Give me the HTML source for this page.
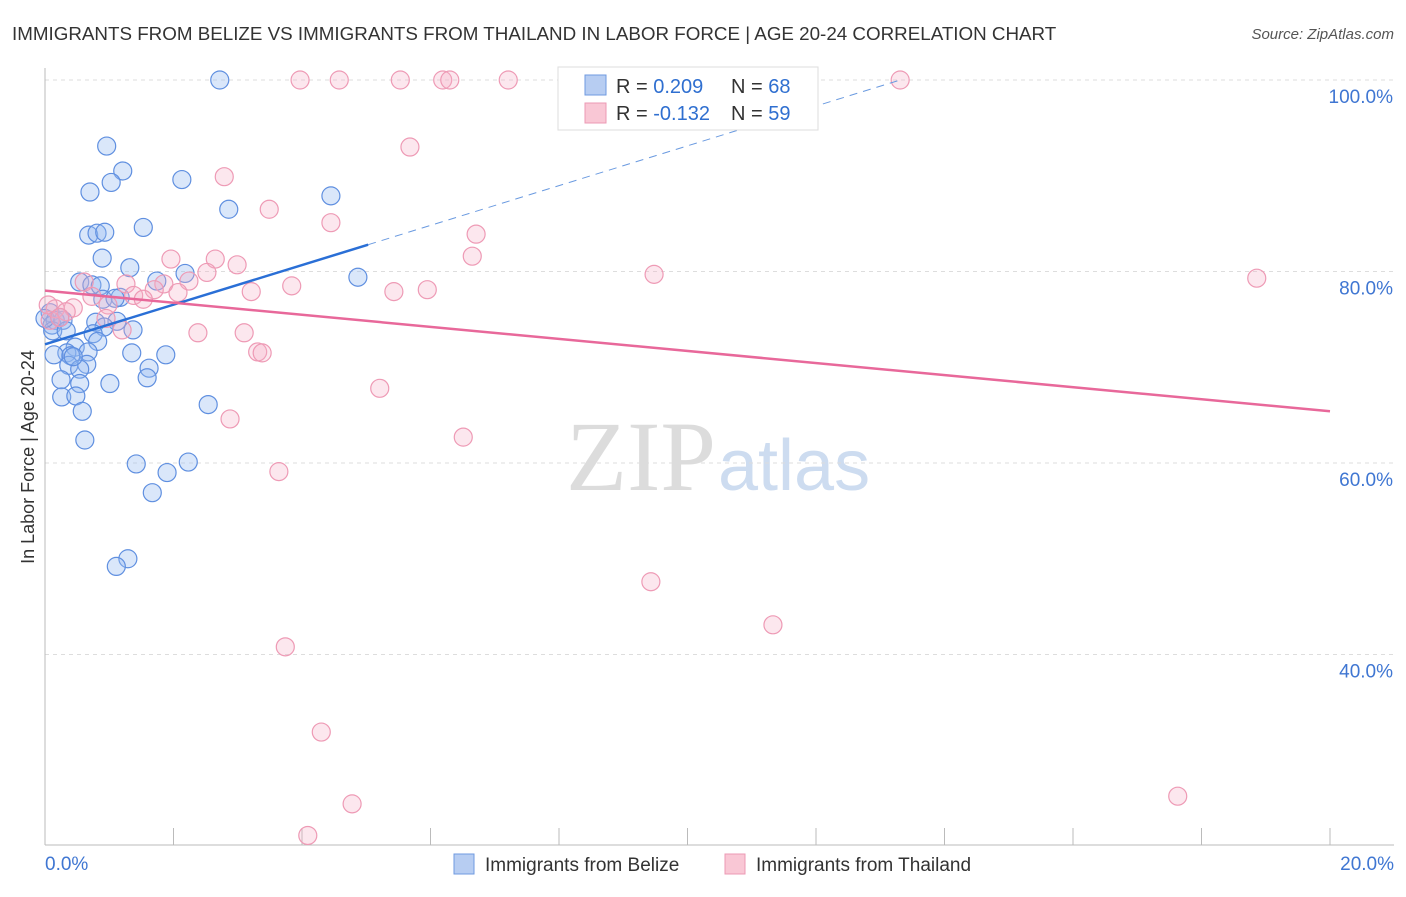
<!DOCTYPE html>
<html><head><meta charset="utf-8"><style>
body{margin:0;background:#fff;font-family:"Liberation Sans",sans-serif;}
</style></head><body>
<svg id="chart" width="1406" height="892" xmlns="http://www.w3.org/2000/svg" font-family="Liberation Sans, sans-serif">
<text x="12" y="40" font-size="18.8" fill="#333">IMMIGRANTS FROM BELIZE VS IMMIGRANTS FROM THAILAND IN LABOR FORCE | AGE 20-24 CORRELATION CHART</text>
<text x="1394" y="39" font-size="15" fill="#555" font-style="italic" text-anchor="end">Source: ZipAtlas.com</text>
<text x="716" y="490" font-size="100" fill="#dcdcdc" text-anchor="end" style="font-family:'Liberation Serif',serif">ZIP</text>
<text x="718" y="490" font-size="72" fill="#cddcf0">atlas</text>
<g id="axes"></g>
<g id="marks"></g>
<g id="trends"></g>
<g>
<rect x="558" y="67" width="260" height="63" fill="#fff" stroke="#ddd"/>
<rect x="585" y="75" width="21" height="20" fill="#b7cdf2" stroke="#6f9ae0"/>
<rect x="585" y="103" width="21" height="20" fill="#f9c7d5" stroke="#ec9ab4"/>
<text x="616" y="93" font-size="20" fill="#333">R = <tspan fill="#2f6fd0">0.209</tspan></text>
<text x="731" y="93" font-size="20" fill="#333">N = <tspan fill="#2f6fd0">68</tspan></text>
<text x="616" y="120" font-size="20" fill="#333">R = <tspan fill="#2f6fd0">-0.132</tspan></text>
<text x="731" y="120" font-size="20" fill="#333">N = <tspan fill="#2f6fd0">59</tspan></text>
</g>
<g>
<rect x="454" y="854" width="20" height="20" fill="#b7cdf2" stroke="#6f9ae0"/>
<text x="485" y="871" font-size="19" fill="#333">Immigrants from Belize</text>
<rect x="725" y="854" width="20" height="20" fill="#f9c7d5" stroke="#ec9ab4"/>
<text x="756" y="871" font-size="19" fill="#333">Immigrants from Thailand</text>
</g>
<text transform="translate(34,457) rotate(-90)" font-size="18" fill="#333" text-anchor="middle">In Labor Force | Age 20-24</text>
</svg>
<script>
const belizeX=[2.72,0.96,1.21,1.03,0.70,2.13,4.45,2.86,0.68,0.81,0.93,1.53,0.89,1.32,2.18,4.87,0.54,1.74,0.73,0.86,1.17,0.90,1.09,0.08,0.16,0.11,0.28,0.79,1.12,0.92,1.37,0.12,0.33,0.75,0.82,0.47,0.67,0.34,0.40,1.35,1.88,0.14,0.65,0.37,1.62,0.54,1.59,0.25,1.01,0.54,0.26,0.48,0.58,2.54,0.62,1.42,2.23,1.90,1.67,1.29,1.11,0.0,0.23,0.44];
const belizeY=[100,93.1,90.5,89.3,88.3,89.6,87.9,86.5,83.8,84.0,84.1,84.6,81.4,80.4,79.8,79.4,78.9,79.0,78.6,78.5,77.3,77.1,77.2,75.7,74.9,74.4,74.9,74.7,74.8,74.2,73.9,73.8,73.8,73.5,72.7,72.1,71.6,71.5,71.2,71.5,71.3,71.3,70.3,70.2,69.9,69.8,68.9,68.7,68.3,68.3,66.9,67.0,65.4,66.1,62.4,59.9,60.1,59.0,56.9,50.0,49.2,75.1,75.2,71.1];
const thaiX=[3.97,4.58,5.53,6.19,6.30,7.21,13.31,5.68,2.79,3.49,4.45,6.71,6.65,1.96,2.65,2.99,2.52,2.24,9.48,18.86,3.84,1.85,1.26,0.61,1.38,1.70,2.07,3.21,5.43,5.95,1.53,0.73,0.98,0.16,0.44,0.33,0.08,0.95,1.20,2.38,3.10,3.31,3.38,5.21,2.88,6.51,3.64,9.43,11.33,3.74,4.30,4.78,4.09,17.63,0.05,0.23];
const thaiY=[100,100,100,100,100,100,100,93.0,89.9,86.5,85.1,83.9,81.6,81.3,81.3,80.7,79.9,79.0,79.7,79.3,78.5,78.7,78.7,78.9,77.5,78.1,77.8,77.9,77.9,78.1,77.1,77.4,76.5,76.1,76.2,75.8,74.9,75.1,73.9,73.6,73.6,71.6,71.5,67.8,64.6,62.7,59.1,47.6,43.1,40.8,31.9,24.4,21.1,25.2,76.5,75.2];
const belizeTrendX=[0,5.03,13.31];
const belizeTrendY=[72.4,82.8,100];
const thaiTrendX=[0,20];
const thaiTrendY=[78.0,65.4];
const yTicks=[100,80,60,40];
const yTickLabels=["100.0%","80.0%","60.0%","40.0%"];
const xTicks=[0,2,4,6,8,10,12,14,16,18,20];

const NS="http://www.w3.org/2000/svg";
function sx(v){return 45+v*64.25;}
function sy(v){return 80+(100-v)*9.575;}
function mk(tag,attrs,parent){const e=document.createElementNS(NS,tag);for(const k in attrs)e.setAttribute(k,attrs[k]);parent.appendChild(e);return e;}
const axes=document.getElementById('axes'),marks=document.getElementById('marks'),trends=document.getElementById('trends');
yTicks.forEach((t,i)=>{
  const g=mk('line',{x1:45,x2:1394,y1:sy(t),y2:sy(t),stroke:'#ddd','stroke-dasharray':'4,4'},axes);
  
  
  const tx=mk('text',{x:1393,y:sy(t)+23,'font-size':19,fill:'#3f76d2','text-anchor':'end'},axes);
  tx.textContent=yTickLabels[i];
  
  
});
const ax=mk('line',{x1:45,x2:1394,y1:845,y2:845,stroke:'#bbb'},axes);


const ay=mk('line',{x1:45,x2:45,y1:68,y2:845,stroke:'#bbb'},axes);


xTicks.forEach(t=>{
  const l=mk('line',{x1:sx(t),x2:sx(t),y1:828,y2:845,stroke:'#bbb'},axes);
  
  
});
const xl0=mk('text',{x:45,y:870,'font-size':19,fill:'#3f76d2'},axes);xl0.textContent='0.0%';


const xl1=mk('text',{x:1394,y:870,'font-size':19,fill:'#3f76d2','text-anchor':'end'},axes);xl1.textContent='20.0%';


belizeX.forEach((x,i)=>{
  const c=mk('circle',{cx:sx(x),cy:sy(belizeY[i]),r:9,fill:'rgba(150,185,240,0.35)',stroke:'#5f8fe0','stroke-width':1.2},marks);
  
  
});
thaiX.forEach((x,i)=>{
  const c=mk('circle',{cx:sx(x),cy:sy(thaiY[i]),r:9,fill:'rgba(245,175,200,0.3)',stroke:'#ee9ab5','stroke-width':1.2},marks);
  
  
});
const bt=mk('line',{x1:sx(belizeTrendX[0]),y1:sy(belizeTrendY[0]),x2:sx(belizeTrendX[1]),y2:sy(belizeTrendY[1]),stroke:'#2a6fd6','stroke-width':2.5},trends);


const bd=mk('line',{x1:sx(belizeTrendX[1]),y1:sy(belizeTrendY[1]),x2:sx(belizeTrendX[2]),y2:sy(belizeTrendY[2]),stroke:'#6a9ae0','stroke-width':1,'stroke-dasharray':'8,6'},trends);


const tt=mk('line',{x1:sx(thaiTrendX[0]),y1:sy(thaiTrendY[0]),x2:sx(thaiTrendX[1]),y2:sy(thaiTrendY[1]),stroke:'#e8689a','stroke-width':2.5},trends);


</script>
</body></html>
